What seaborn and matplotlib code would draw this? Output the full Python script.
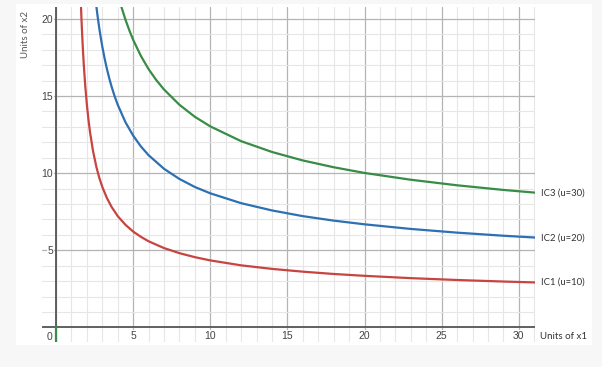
import numpy as np
import pandas as pd
import matplotlib
matplotlib.use("Agg")
import matplotlib.pyplot as plt
from matplotlib.patches import Rectangle
import seaborn as sns

# ---- data ----
ic1_x = [1.62, 1.65, 1.7, 1.75, 1.8, 1.9, 2.0, 2.1, 2.2, 2.4, 2.62, 2.8, 3.0, 3.3, 3.6, 4.0, 4.5,
         5, 5.5, 6, 7, 8, 9, 10, 12, 14, 16, 18, 20, 23, 26, 29, 31.1]
ic1_y = [20.73, 19.97, 18.85, 17.87, 17.01, 15.58, 14.43, 13.48, 12.68, 11.42, 10.38, 9.71, 9.10,
         8.38, 7.81, 7.21, 6.65, 6.21, 5.87, 5.58, 5.14, 4.81, 4.55, 4.34, 4.02, 3.79, 3.61, 3.46,
         3.34, 3.19, 3.07, 2.97, 2.91]
ic2_x = [2.62, 2.7, 2.8, 2.9, 3.0, 3.15, 3.3, 3.45, 3.6, 3.8, 4.0, 4.5, 5, 5.5, 6, 7, 8, 9, 10,
         12, 14, 16, 18, 20, 23, 26, 29, 31.1]
ic2_y = [20.76, 20.13, 19.42, 18.78, 18.20, 17.43, 16.75, 16.15, 15.61, 14.98, 14.43, 13.30,
         12.43, 11.73, 11.16, 10.28, 9.62, 9.10, 8.69, 8.05, 7.58, 7.21, 6.92, 6.68, 6.38, 6.14,
         5.94, 5.82]
ic3_x = [4.24, 4.5, 4.75, 5, 5.5, 6, 6.5, 7, 8, 9, 10, 12, 14, 16, 18, 20, 23, 26, 29, 31.1]
ic3_y = [20.77, 19.95, 19.26, 18.64, 17.60, 16.74, 16.03, 15.42, 14.43, 13.65, 13.03, 12.07,
         11.37, 10.82, 10.38, 10.01, 9.57, 9.21, 8.91, 8.73]
curve_labels = ["IC1 (u=10)", "IC2 (u=20)", "IC3 (u=30)"]
curve_colors = ["#c74440", "#2d70b3", "#388c46"]
x_ticks = [0, 5, 10, 15, 20, 25, 30]
y_ticks = [5, 10, 15, 20]
origin_mark_x = [0, 0]
origin_mark_y = [-0.95, 0]
x_title = "Units of x1"
y_title = "Units of x2"

df = pd.concat([
    pd.DataFrame({"x1": ic1_x, "x2": ic1_y, "curve": curve_labels[0]}),
    pd.DataFrame({"x1": ic2_x, "x2": ic2_y, "curve": curve_labels[1]}),
    pd.DataFrame({"x1": ic3_x, "x2": ic3_y, "curve": curve_labels[2]}),
], ignore_index=True)

sns.set_style("white")
plt.rcParams["font.family"] = ["Liberation Sans", "DejaVu Sans"]

W, H = 602, 367
fig = plt.figure(figsize=(W / 100, H / 100), dpi=100, facecolor="#f7f7f7")
fig.patches.append(Rectangle((16 / W, 1 - 345 / H), (592 - 16) / W, (345 - 4) / H,
                             transform=fig.transFigure, facecolor="white",
                             edgecolor="none", zorder=-10))
ax = fig.add_axes([42 / W, 1 - 342 / H, (535 - 42) / W, (342 - 7) / H])
ax.set_zorder(1)
ax.set_facecolor("white")

sns.lineplot(data=df, x="x1", y="x2", hue="curve", palette=curve_colors, sort=False,
             estimator=None, linewidth=1.6, legend=False, ax=ax, zorder=5)

ax.set_xlim(-0.91, 31.05)
ax.set_ylim(-0.95, 20.77)

# grid
ax.set_xticks(np.arange(0, 32, 1), minor=True)
ax.set_yticks(np.arange(0, 21, 1), minor=True)
ax.set_xticks(x_ticks)
ax.set_yticks(y_ticks)
ax.grid(which="minor", color="#e6e6e6", linewidth=0.8, zorder=0)
ax.grid(which="major", color="#b4b4b4", linewidth=0.9, zorder=1)
ax.set_axisbelow(True)
for s in ax.spines.values():
    s.set_visible(False)

ax.axhline(0, color="#555555", linewidth=1.3, zorder=3)
ax.axvline(0, color="#555555", linewidth=1.3, zorder=3)
ax.plot(origin_mark_x, origin_mark_y, color=curve_colors[2], linewidth=1.6, zorder=4)

# tick labels
ax.tick_params(which="both", length=0)
ax.tick_params(axis="y", pad=-8, labelsize=7.5, labelcolor="#444444")
ax.tick_params(axis="x", pad=-8, labelsize=7.5, labelcolor="#444444")
ax.set_xticklabels([""] + [str(v) for v in x_ticks[1:]])
ax.set_yticklabels([str(v) for v in y_ticks])
for lab in ax.get_xticklabels() + ax.get_yticklabels():
    lab.set_bbox(dict(facecolor="white", edgecolor="none", pad=0.6))
ax.annotate("0", xy=(0, 0), xytext=(-2.5, -3), textcoords="offset points",
            ha="right", va="top", fontsize=7.5, color="#444444",
            bbox=dict(facecolor="white", edgecolor="none", pad=0.6))
ax.set_xlabel("")
ax.set_ylabel("")

# curve end labels
ends = [(ic1_x[-1], ic1_y[-1]), (ic2_x[-1], ic2_y[-1]), (ic3_x[-1], ic3_y[-1])]
for (ex, ey), lab in zip(ends, curve_labels):
    ax.annotate(lab, xy=(ex, ey), xytext=(3.5, 0), textcoords="offset points",
                ha="left", va="center", fontsize=6.8, color="#333333",
                family=["Lato", "DejaVu Sans"], annotation_clip=False)

ax.annotate(x_title, xy=(1, 0), xycoords=("axes fraction", "data"), xytext=(3.5, -6.5),
            textcoords="offset points", ha="left", va="center", fontsize=7,
            color="#333333", family=["Lato", "DejaVu Sans"], annotation_clip=False)
fig.text(26 / W, 1 - 34 / H, y_title, rotation=90, ha="center", va="center",
         fontsize=7, color="#555555", family=["Lato", "DejaVu Sans"])

fig.savefig("out.png", dpi=100, facecolor=fig.get_facecolor())
